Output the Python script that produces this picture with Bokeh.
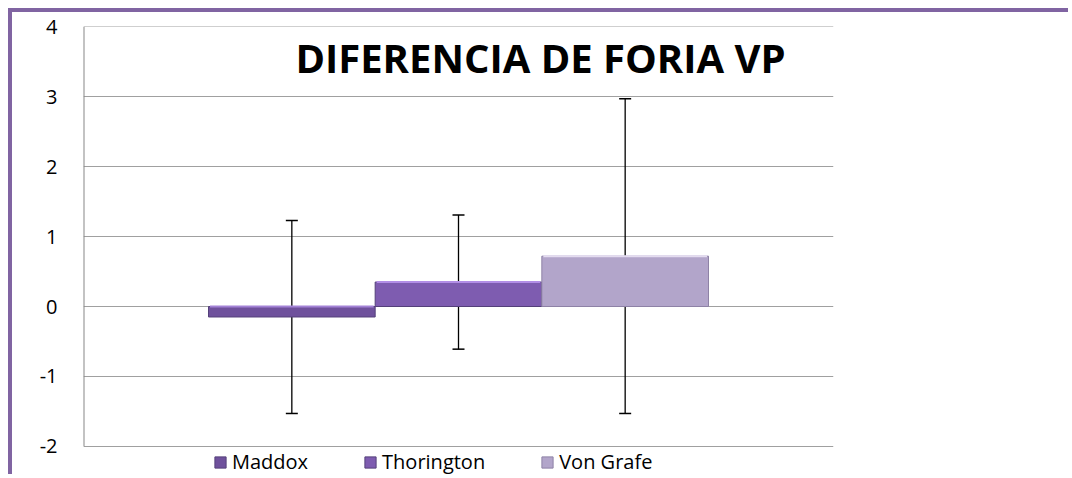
from bokeh.plotting import figure
from bokeh.models import (Range1d, ColumnDataSource, Whisker, TeeHead, Label,
                          Legend, LegendItem, FixedTicker)
from bokeh.embed import file_html
from bokeh.resources import INLINE

series = ["Maddox", "Thorington", "Von Grafe"]
values = [-0.15, 0.35, 0.72]
errors = [1.38, 0.96, 2.25]
colors = ["#6F519C", "#7E5CB0", "#B2A5CA"]
highlights = ["#A383D6", "#B28EE6", "#E4DCF0"]
y_ticks = [-2, -1, 0, 1, 2, 3, 4]
title_text = "DIFERENCIA DE FORIA VP"

gap = 1.5
bw = 1.0 / (len(series) + gap)
xs = [0.5 + (i - (len(series) - 1) / 2) * bw for i in range(len(series))]

src = ColumnDataSource(dict(
    x=xs,
    upper=[v + e for v, e in zip(values, errors)],
    lower=[v - e for v, e in zip(values, errors)]))

p = figure(width=1060, height=466, output_backend="svg", toolbar_location=None,
           x_range=Range1d(0, 1), y_range=Range1d(-2.46, 4.005),
           x_axis_location=None,
           min_border_left=71, min_border_right=239, min_border_top=14,
           min_border_bottom=0)
p.styles = {"margin-left": "8px", "margin-top": "8px",
            "border-left": "4px solid #8064A2", "border-top": "4px solid #8064A2"}
p.outline_line_color = None
p.background_fill_color = "white"
p.border_fill_color = "white"

p.xgrid.visible = False
p.ygrid.ticker = FixedTicker(ticks=y_ticks)
p.ygrid.grid_line_color = "#A0A0A0"
p.ygrid.grid_line_width = 1
p.yaxis.ticker = FixedTicker(ticks=y_ticks)
p.yaxis.major_label_overrides = {t: str(t) for t in y_ticks}
p.yaxis.axis_line_color = None
p.yaxis.major_tick_line_color = None
p.yaxis.minor_tick_line_color = None
p.yaxis.major_label_text_font = "Open Sans"
p.yaxis.major_label_text_font_size = "20px"
p.yaxis.major_label_text_color = "black"
p.yaxis.major_label_standoff = 20

# vertical axis line from lowest to highest tick
p.segment(x0=[0], y0=[y_ticks[0]], x1=[0], y1=[y_ticks[-1]],
          line_color="#888888", line_width=2)

renderers = []
for i, name in enumerate(series):
    top = max(values[i], 0)
    r = p.vbar(x=[xs[i]], width=bw, top=[top], bottom=[min(values[i], 0)],
               fill_color=colors[i], line_color="#54407A" if i < 2 else "#8E82A6",
               line_width=1)
    renderers.append(r)
    # light bevel along the upper edge
    p.segment(x0=[xs[i] - bw / 2 + 0.002], y0=[top], x1=[xs[i] + bw / 2 - 0.002], y1=[top],
              line_color=highlights[i], line_width=2)

p.add_layout(Whisker(source=src, base="x", upper="upper", lower="lower",
                     line_color="black", line_width=1.3,
                     upper_head=TeeHead(size=12, line_color="black", line_width=1.5),
                     lower_head=TeeHead(size=12, line_color="black", line_width=1.5)))

p.add_layout(Label(x=457, y=421, x_units="screen", y_units="screen", text=title_text,
                   text_font="Open Sans", text_font_style="bold", text_font_size="40px",
                   text_align="center", text_baseline="middle", text_color="black"))

legend = Legend(items=[LegendItem(label=n, renderers=[r]) for n, r in zip(series, renderers)],
                orientation="horizontal", location=(130, 3),
                label_text_font="Open Sans", label_text_font_size="20px",
                label_text_color="black",
                glyph_width=14, glyph_height=14, label_standoff=5, spacing=55,
                padding=0, margin=0, border_line_color=None, background_fill_alpha=0)
p.add_layout(legend)

open("out.html", "w").write(file_html(p, INLINE))
